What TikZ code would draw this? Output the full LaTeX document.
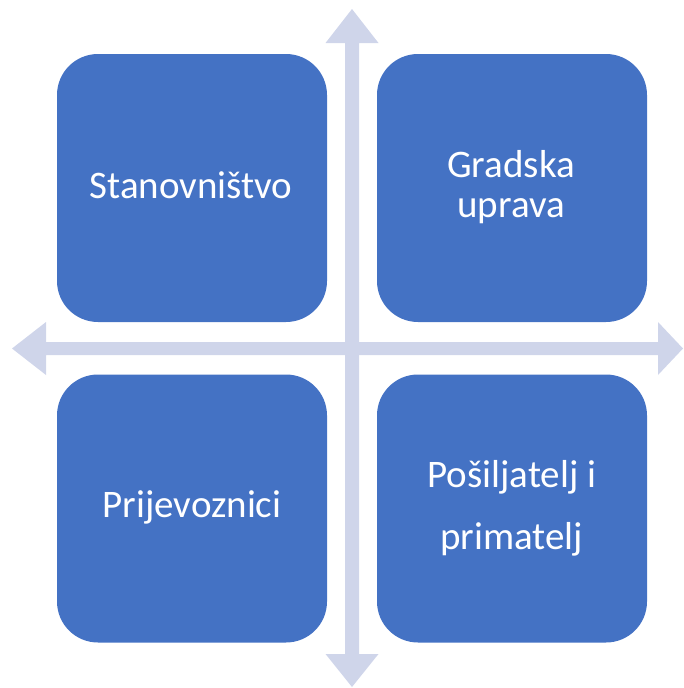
\documentclass[tikz,border=0pt]{standalone}
\usepackage{fontspec}
\setmainfont{Carlito}
\definecolor{boxblue}{HTML}{4472C4}
\definecolor{arrowlav}{HTML}{CFD5EA}
\tikzset{
  quad/.style={fill=boxblue, draw=none, rounded corners=41pt, minimum width=270pt, minimum height=268pt, inner sep=0pt},
  lbl/.style={text=white, font=\fontsize{39}{46}\selectfont, anchor=base, inner sep=0pt},
  axisarrow/.style={fill=arrowlav, draw=none}
}
\begin{document}
\begin{tikzpicture}[x=1pt,y=-1pt]
\useasboundingbox (0,0) rectangle (683,688);
% vertical double arrow
\fill[axisarrow] (352,9) -- (378.5,43) -- (359,43) -- (359,654) -- (378.5,654) -- (352,687) -- (325.5,654) -- (345,654) -- (345,43) -- (325.5,43) -- cycle;
% horizontal double arrow
\fill[axisarrow] (12,348.5) -- (46,322) -- (46,342) -- (658,342) -- (658,322) -- (683,348.5) -- (658,375) -- (658,355) -- (46,355) -- (46,375) -- cycle;
% boxes
\node[quad] (tl) at (192,188) {};
\node[quad] (tr) at (512,188) {};
\node[quad] (bl) at (192,508.5) {};
\node[quad] (br) at (512,508.5) {};
% labels
\node[lbl] (t1) at (191,198) {Stanovništvo};
\node[lbl] (t2) at (511,177) {Gradska};
\node[lbl] (t3) at (511,217) {uprava};
\node[lbl] (t4) at (192,517) {Prijevoznici};
\node[lbl] (t5) at (512,487) {Pošiljatelj i};
\node[lbl] (t6) at (511.5,549) {primatelj};
\end{tikzpicture}
\end{document}
